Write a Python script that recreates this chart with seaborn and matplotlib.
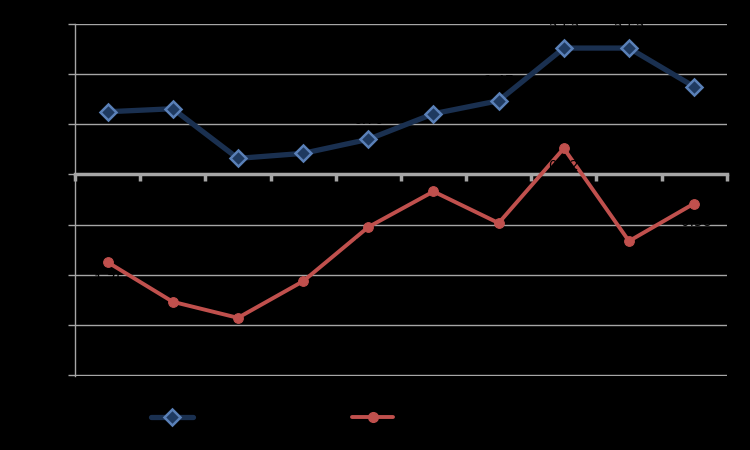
import matplotlib
matplotlib.use("Agg")
import matplotlib.pyplot as plt
import seaborn as sns
import pandas as pd
import numpy as np

categories = ["2006", "2007", "2008", "2009", "2010", "2011", "2012", "2013", "2014", "2015"]
series_a_name = "Series A"
series_b_name = "Series B"
series_a = [1.25, 1.31, 0.32, 0.42, 0.70, 1.21, 1.47, 2.52, 2.52, 1.75]
series_b = [-1.75, -2.54, -2.86, -2.13, -1.05, -0.34, -0.97, 0.52, -1.33, -0.58]
y_ticks = [-4, -3, -2, -1, 0, 1, 2, 3]

sns.set_theme(style="white")
plt.rcParams['font.family'] = ['DejaVu Sans']

df = pd.DataFrame({
    "cat": list(range(len(categories))) * 2,
    "value": series_a + series_b,
    "series": [series_a_name] * len(series_a) + [series_b_name] * len(series_b),
})

fig = plt.figure(figsize=(7.5, 4.5), dpi=100, facecolor="black")
ax = fig.add_axes([0.1, 1 - 376 / 450, 0.869, (376 - 24) / 450])
ax.set_facecolor("black")

blue_line = "#1A3050"
blue_face = "#1F3A60"
blue_edge = "#5A80B8"
red = "#C0504D"

ax.set_ylim(-4.02, 3.0)
ax.set_xlim(-0.5, len(categories) - 0.5)
ax.set_yticks(y_ticks)
ax.yaxis.grid(True, color="#A6A6A6", linewidth=1)
ax.set_axisbelow(True)

a = df[df.series == series_a_name]
b = df[df.series == series_b_name]
sns.lineplot(data=a, x="cat", y="value", ax=ax, color=blue_line, linewidth=3.8,
             marker="D", markersize=8, markerfacecolor=blue_face, markeredgecolor=blue_edge,
             markeredgewidth=1.8, label=series_a_name, legend=False, zorder=4)
sns.lineplot(data=b, x="cat", y="value", ax=ax, color=red, linewidth=2.8,
             marker="o", markersize=7, markerfacecolor=red, markeredgecolor=red,
             label=series_b_name, legend=False, zorder=4)

for i, v in enumerate(series_a):
    ax.annotate(f"{v:.2f}", (i, v), xytext=(0, 9), textcoords="offset points",
                ha="center", va="bottom", color="black", fontsize=10, zorder=6)
for i, v in enumerate(series_b):
    ax.annotate(f"{v:.2f}", (i, v), xytext=(0, -8), textcoords="offset points",
                ha="center", va="top", color="black", fontsize=10, zorder=6)

for s in ["top", "right"]:
    ax.spines[s].set_visible(False)
ax.spines["left"].set_color("#A6A6A6")
ax.spines["left"].set_linewidth(1)
ax.spines["bottom"].set_position(("data", 0))
ax.spines["bottom"].set_color("#A6A6A6")
ax.spines["bottom"].set_linewidth(2.5)
ax.spines["bottom"].set_zorder(3)

ax.set_xticks(np.arange(-0.5, len(categories), 1.0))
ax.set_xticklabels([])
ax.set_xticks(range(len(categories)), minor=True)
ax.set_xticklabels(categories, minor=True, color="black")
ax.tick_params(axis="x", which="major", direction="out", length=5, width=2.5, color="#A6A6A6", bottom=True)
ax.tick_params(axis="x", which="minor", length=0, labelsize=9, labelcolor="black", pad=2)
ax.tick_params(axis="y", direction="out", length=5, width=1, color="#A6A6A6", left=True, labelcolor="black", labelsize=10)
ax.set_xlabel("")
ax.set_ylabel("")

handles = [
    plt.Line2D([], [], color=blue_line, linewidth=3.8, marker="D", markersize=8,
               markerfacecolor=blue_face, markeredgecolor=blue_edge, markeredgewidth=1.8),
    plt.Line2D([], [], color=red, linewidth=2.8, marker="o", markersize=7,
               markerfacecolor=red, markeredgecolor=red),
]
leg = fig.legend(handles, [series_a_name, series_b_name], loc="center left",
                 bbox_to_anchor=(151 / 750, 1 - 418 / 450), ncol=2, frameon=False,
                 handlelength=3.0, columnspacing=6.9, borderaxespad=0, borderpad=0,
                 fontsize=10, handletextpad=0.5)
for t in leg.get_texts():
    t.set_color("black")

fig.savefig("out.png", dpi=100, facecolor="black")
